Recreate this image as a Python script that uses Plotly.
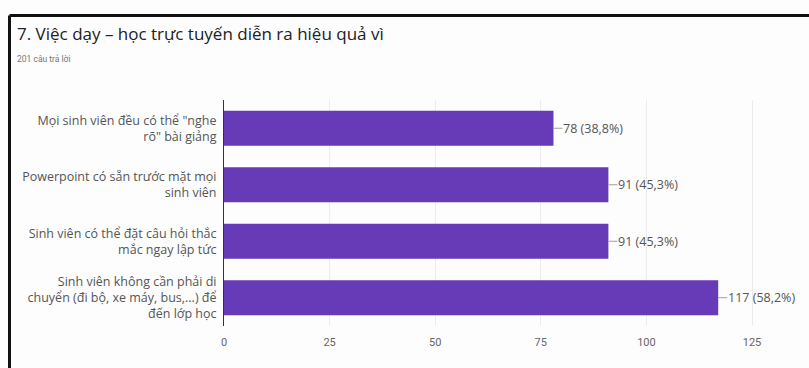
import plotly.graph_objects as go

# Survey question 7: reasons online teaching is effective
title_text = "7. Việc dạy – học trực tuyến diễn ra hiệu quả vì"
subtitle_text = "201 câu trả lời"
total_responses = 201

categories = [
    "Mọi sinh viên đều có thể \"nghe<br>rõ\" bài giảng",
    "Powerpoint có sẵn trước mặt mọi<br>sinh viên",
    "Sinh viên có thể đặt câu hỏi thắc<br>mắc ngay lập tức",
    "Sinh viên không cần phải di<br>chuyển (đi bộ, xe máy, bus,...) để<br>đến lớp học",
]
counts = [78, 91, 91, 117]
x_ticks = [0, 25, 50, 75, 100, 125]

W, H = 809, 368
L, R, T, B = 224, 15, 100, 42
plot_w = W - L - R
plot_h = H - T - B

FONT = "Open Sans, Arial, sans-serif"


def px_to_paper_x(px):
    return (px - L) / plot_w


def px_to_paper_y(py):
    return (H - B - py) / plot_h


fig = go.Figure(
    go.Bar(
        x=counts,
        y=categories,
        orientation="h",
        marker=dict(color="#673ab7", line=dict(width=0)),
        hoverinfo="skip",
    )
)

# value labels with a short leader line, e.g. "78 (38,8%)"
for cat, n in zip(categories, counts):
    pct = f"{n / total_responses * 100:.1f}".replace(".", ",")
    fig.add_annotation(
        x=n, y=cat, xref="x", yref="y",
        text=f"{n} ({pct}%)",
        showarrow=True, arrowhead=0, arrowwidth=1, arrowcolor="#9e9e9e",
        ax=9, ay=0, xanchor="left", borderpad=0,
        font=dict(family=FONT, size=12.5, color="#555555"),
    )

# title and response count
fig.add_annotation(
    x=px_to_paper_x(15), y=px_to_paper_y(33), xref="paper", yref="paper",
    text=title_text, showarrow=False, xanchor="left", yanchor="middle",
    font=dict(family=FONT, size=17, color="#202124"),
)
fig.add_annotation(
    x=px_to_paper_x(15), y=px_to_paper_y(59), xref="paper", yref="paper",
    text=subtitle_text, showarrow=False, xanchor="left", yanchor="middle",
    font=dict(family="Roboto, Arial, sans-serif", size=8.5, color="#777777"),
)

# frame lines along the top and left edges
bx, by = px_to_paper_x(9.5), px_to_paper_y(15.5)
fig.add_shape(type="line", xref="paper", yref="paper",
              x0=bx, y0=by, x1=px_to_paper_x(W + 5), y1=by,
              line=dict(color="#111111", width=3))
fig.add_shape(type="line", xref="paper", yref="paper",
              x0=bx, y0=by, x1=bx, y1=px_to_paper_y(H + 5),
              line=dict(color="#111111", width=3))

fig.update_layout(
    width=W, height=H,
    margin=dict(l=L, r=R, t=T, b=B),
    paper_bgcolor="#fdfdfd", plot_bgcolor="#fdfdfd",
    bargap=0.38,
    showlegend=False,
    font=dict(family=FONT),
    xaxis=dict(
        range=[0, plot_w / 4.224],
        tickvals=x_ticks,
        showgrid=True, gridcolor="#ececec", gridwidth=1,
        zeroline=False, showline=False,
        tickfont=dict(family="Roboto, Arial, sans-serif", size=11, color="#666666"),
        ticks="", ticklen=0, ticklabelstandoff=8,
    ),
    yaxis=dict(
        autorange="reversed",
        showline=True, linecolor="#333333", linewidth=1,
        showgrid=False, zeroline=False,
        ticks="", ticklabelstandoff=4,
        tickfont=dict(size=12.5, color="#555555"),
    ),
)

fig.write_html("out.html")
